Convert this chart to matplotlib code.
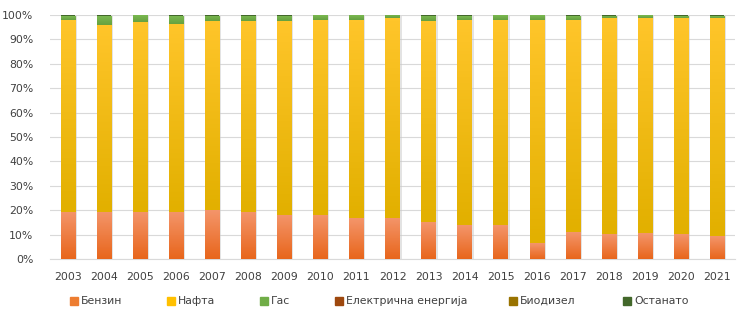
import numpy as np
import matplotlib.pyplot as plt
from matplotlib.colors import LinearSegmentedColormap
from matplotlib.patches import Rectangle

years = [str(y) for y in range(2003, 2022)]
benzin = [19.4, 19.4, 19.4, 19.4, 19.9, 19.4, 18.1, 18.1, 16.6, 17.0,
          15.0, 13.8, 13.8, 6.4, 10.9, 10.1, 10.5, 10.1, 9.3]
nafta = [78.7, 76.6, 77.9, 77.1, 77.6, 78.1, 79.3, 80.0, 81.5, 81.6,
         82.5, 84.3, 84.3, 91.7, 87.2, 88.5, 88.4, 88.8, 89.6]
gas = [1.3, 3.5, 2.5, 3.1, 2.1, 2.2, 2.1, 1.8, 1.8, 1.3,
       2.1, 1.5, 1.7, 1.7, 1.3, 1.0, 1.0, 0.8, 0.8]
struja = [0.0] * 19
biodizel = [0.0] * 19
ostanato = [0.6, 0.5, 0.2, 0.4, 0.4, 0.3, 0.5, 0.1, 0.1, 0.1,
            0.4, 0.4, 0.2, 0.2, 0.6, 0.4, 0.1, 0.3, 0.3]

series = [
    ("Бензин", benzin, "#ED7D31", ("#E8661C", "#F4956A")),
    ("Нафта", nafta, "#FFC000", ("#E2B000", "#FFC52A")),
    ("Гас", gas, "#70AD47", ("#66A13F", "#7AB851")),
    ("Електрична енергија", struja, "#9E480E", None),
    ("Биодизел", biodizel, "#997300", None),
    ("Останато", ostanato, "#43682B", None),
]

fig = plt.figure(figsize=(7.51, 3.24), dpi=100)
ax = fig.add_axes([50 / 751, 1 - 259 / 324, 685 / 751, 244 / 324])

x = np.arange(len(years))
width = 0.40
grad = np.linspace(0, 1, 64).reshape(-1, 1)

# soft shadow on the right of each column
ax.bar(x + 0.05, 100, width, bottom=-0.4, color="#c9c9c9", alpha=0.5,
       zorder=1, linewidth=0)

bottom = np.zeros(len(years))
for name, vals, color, gr in series:
    vals = np.array(vals)
    bars = ax.bar(x, vals, width, bottom=bottom, color=color, linewidth=0,
                  zorder=2, label=name)
    if gr is not None:
        cmap = LinearSegmentedColormap.from_list(name, gr)
        for b in bars:
            if b.get_height() <= 0:
                continue
            x0, y0 = b.get_x(), b.get_y()
            im = ax.imshow(grad, cmap=cmap, origin="lower", aspect="auto",
                           extent=[x0, x0 + b.get_width(), y0, y0 + b.get_height()],
                           zorder=3)
            im.set_clip_path(b)
    bottom += vals

ax.set_xlim(-0.5, len(years) - 0.5)
ax.set_ylim(0, 100)
ax.set_yticks(range(0, 101, 10))
ax.set_yticklabels([f"{v}%" for v in range(0, 101, 10)])
ax.set_xticks(x)
ax.set_xticklabels(years)
ax.tick_params(axis="both", length=0, labelsize=7.8, colors="#404040")
ax.tick_params(axis="x", pad=9)
ax.tick_params(axis="y", pad=12)
ax.grid(axis="y", color="#d9d9d9", linewidth=0.8, zorder=0)
ax.set_axisbelow(True)
for s in ["top", "right", "left"]:
    ax.spines[s].set_visible(False)
ax.spines["bottom"].set_color("#d9d9d9")
ax.spines["bottom"].set_linewidth(0.8)

# legend row laid out by hand
legend_x = [70, 167, 260, 335, 509, 623]
for (name, vals, color, gr), lx in zip(series, legend_x):
    fig.patches.append(Rectangle((lx / 751, 1 - 305 / 324), 8 / 751, 8 / 324,
                                 transform=fig.transFigure, color=color))
    fig.text((lx + 11) / 751, 1 - 301 / 324, name, fontsize=7.8,
             color="#404040", va="center", ha="left")

fig.savefig("out.png", dpi=100)
